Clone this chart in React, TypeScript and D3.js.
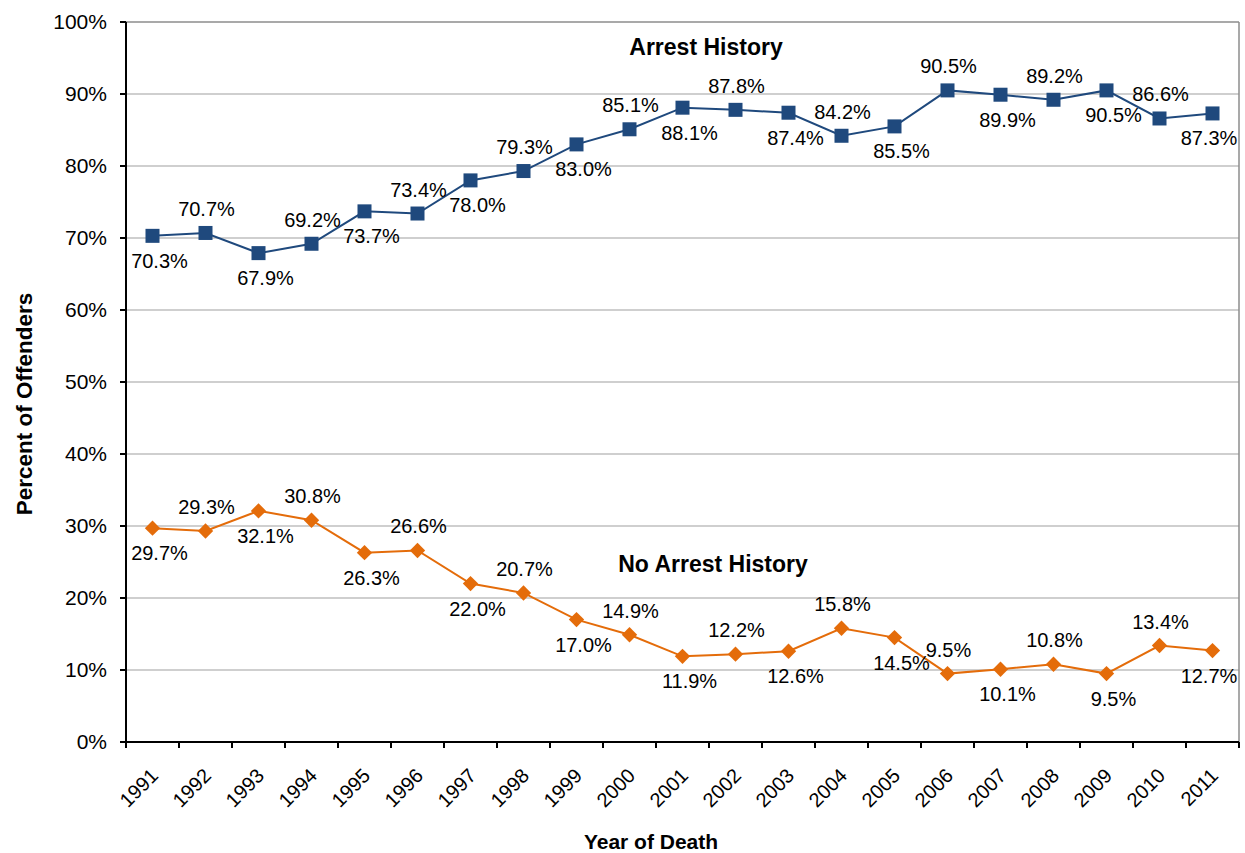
import React from "react";
import * as d3 from "d3";

const years = ["1991","1992","1993","1994","1995","1996","1997","1998","1999","2000","2001","2002","2003","2004","2005","2006","2007","2008","2009","2010","2011"];
const arrest = [70.3,70.7,67.9,69.2,73.7,73.4,78.0,79.3,83.0,85.1,88.1,87.8,87.4,84.2,85.5,90.5,89.9,89.2,90.5,86.6,87.3];
const noArrest = [29.7,29.3,32.1,30.8,26.3,26.6,22.0,20.7,17.0,14.9,11.9,12.2,12.6,15.8,14.5,9.5,10.1,10.8,9.5,13.4,12.7];
// label placement: 1 = below, -1 = above
const labelSide = [1,-1,1,-1,1,-1,1,-1,1,-1,1,-1,1,-1,1,-1,1,-1,1,-1,1];
const yTicks = [0,10,20,30,40,50,60,70,80,90,100];

const W = 1245, H = 853;
const L = 126, R = 1239, T = 22, B = 742;
const FONT = "'Liberation Sans', Arial, sans-serif";

export default function App() {
  const x = d3.scaleBand<string>().domain(years).range([L, R]).padding(0);
  const y = d3.scaleLinear().domain([0, 100]).range([B, T]);
  const cx = (yr: string) => (x(yr) as number) + x.bandwidth() / 2;
  const line = d3.line<number>().x((_, i) => cx(years[i])).y(d => y(d));
  const blue = "#1F497D";
  const orange = "#E46C0A";
  const diamond = d3.symbol().type(d3.symbolDiamond2).size(150)() as string;
  const lblX = (i: number) => Math.min(cx(years[i]) + (labelSide[i] > 0 ? 7 : 1), W - 36);
  const lblY = (v: number, i: number) => y(v) + (labelSide[i] > 0 ? 25 : -24);

  return (
    <svg width={W} height={H} style={{ position: "absolute", left: 0, top: 0, background: "#fff" }} fontFamily={FONT}>
      <rect x={0} y={0} width={W} height={H} fill="#fff" />
      {yTicks.filter(t => t > 0 && t < 100).map(t => (
        <line key={t} x1={L} x2={R} y1={y(t)} y2={y(t)} stroke="#BFBFBF" strokeWidth={1.5} />
      ))}
      <line x1={L} x2={R} y1={T} y2={T} stroke="#8C8C8C" strokeWidth={1.5} />
      <line x1={R} x2={R} y1={T} y2={B} stroke="#8C8C8C" strokeWidth={1.5} />
      {/* y axis */}
      <line x1={L} x2={L} y1={T} y2={B} stroke="#000" strokeWidth={2} />
      {yTicks.map(t => (
        <g key={t}>
          <line x1={L - 6} x2={L} y1={y(t)} y2={y(t)} stroke="#000" strokeWidth={2} />
          <text x={L - 19} y={y(t)} dy="0.35em" textAnchor="end" fontSize={21} fill="#000">{t}%</text>
        </g>
      ))}
      {/* x axis */}
      <line x1={L} x2={R} y1={B} y2={B} stroke="#000" strokeWidth={2} />
      {years.map((yr, i) => (
        <line key={"t" + i} x1={x(yr) as number} x2={x(yr) as number} y1={B} y2={B + 6} stroke="#000" strokeWidth={2} />
      ))}
      <line x1={R} x2={R} y1={B} y2={B + 6} stroke="#000" strokeWidth={2} />
      {years.map(yr => (
        <text key={"l" + yr} transform={`translate(${cx(yr) + 2},${B + 30}) rotate(-45)`} textAnchor="end" dy="0.35em" fontSize={20} fill="#000">{yr}</text>
      ))}
      {/* titles */}
      <text x={651} y={849} textAnchor="middle" fontSize={21} fontWeight="bold">Year of Death</text>
      <text transform={`translate(32,404) rotate(-90)`} textAnchor="middle" fontSize={22.5} fontWeight="bold">Percent of Offenders</text>
      <text x={706} y={55} textAnchor="middle" fontSize={23} fontWeight="bold">Arrest History</text>
      <text x={713} y={572} textAnchor="middle" fontSize={23} fontWeight="bold">No Arrest History</text>
      {/* series */}
      <path d={line(arrest) as string} fill="none" stroke={blue} strokeWidth={2} />
      <path d={line(noArrest) as string} fill="none" stroke={orange} strokeWidth={2} />
      {arrest.map((v, i) => (
        <rect key={"a" + i} x={cx(years[i]) - 7} y={y(v) - 7} width={14} height={14} fill={blue} />
      ))}
      {noArrest.map((v, i) => (
        <path key={"n" + i} d={diamond} transform={`translate(${cx(years[i])},${y(v)})`} fill={orange} />
      ))}
      {arrest.map((v, i) => (
        <text key={"al" + i} x={lblX(i)} y={lblY(v, i)} dy="0.35em" textAnchor="middle" fontSize={20} fill="#000">{v.toFixed(1)}%</text>
      ))}
      {noArrest.map((v, i) => (
        <text key={"nl" + i} x={lblX(i)} y={lblY(v, i)} dy="0.35em" textAnchor="middle" fontSize={20} fill="#000">{v.toFixed(1)}%</text>
      ))}
    </svg>
  );
}
